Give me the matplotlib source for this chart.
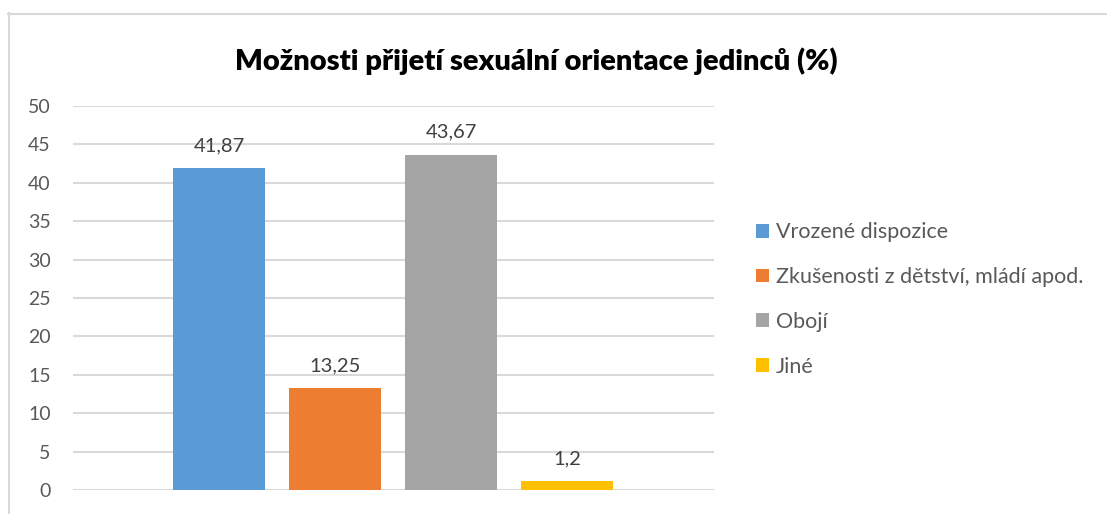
import numpy as np
import matplotlib.pyplot as plt
from matplotlib.lines import Line2D

plt.rcParams['font.family'] = ['Lato', 'DejaVu Sans']

# data
categories = ['Vrozené dispozice', 'Zkušenosti z dětství, mládí apod.', 'Obojí', 'Jiné']
values = [41.87, 13.25, 43.67, 1.2]
value_labels = ['41,87', '13,25', '43,67', '1,2']
colors = ['#5B9BD5', '#ED7D31', '#A5A5A5', '#FFC000']
yticks = [0, 5, 10, 15, 20, 25, 30, 35, 40, 45, 50]

W, H = 1107, 514
fig = plt.figure(figsize=(W / 100, H / 100), dpi=100)
ax = fig.add_axes([73 / W, 1 - 490 / H, (714 - 73) / W, (490 - 106) / H])

x = np.arange(len(categories))
bars = ax.bar(x, values, width=92 / 116, color=colors, label=categories, zorder=3)
for b, lab in zip(bars, value_labels):
    ax.annotate(lab, (b.get_x() + b.get_width() / 2, b.get_height()),
                xytext=(0, 10), textcoords='offset points', ha='center', va='bottom',
                fontsize=14.5, color='#404040')

ax.set_xlim(-1.259, 4.267)
ax.set_ylim(0, 50)
ax.set_yticks(yticks)
ax.set_xticks([])
ax.tick_params(axis='y', length=0, pad=16, labelsize=14, labelcolor='#595959')
ax.grid(axis='y', color='#D9D9D9', linewidth=1.5, zorder=0)
for s in ax.spines.values():
    s.set_visible(False)

fig.text(536 / W, 1 - 61 / H, 'Možnosti přijetí sexuální orientace jedinců (%)',
         ha='center', va='center', fontsize=21, fontweight='heavy', color='black')

leg = fig.legend(handles=bars, labels=categories, loc='upper left',
                 bbox_to_anchor=(737 / W, 1 - 203 / H), frameon=False,
                 fontsize=15.5, labelcolor='#595959', handlelength=0.6, handleheight=0.6,
                 handletextpad=0.3, labelspacing=1.15)

# outer chart frame (left and top edges visible)
fig.add_artist(Line2D([9 / W, 9 / W], [0, 1 - 13 / H], color='#D9D9D9', linewidth=1.5,
                      transform=fig.transFigure))
fig.add_artist(Line2D([8 / W, 1], [1 - 13.5 / H, 1 - 13.5 / H], color='#D9D9D9', linewidth=1.5,
                      transform=fig.transFigure))

fig.savefig('out.png', dpi=100)
